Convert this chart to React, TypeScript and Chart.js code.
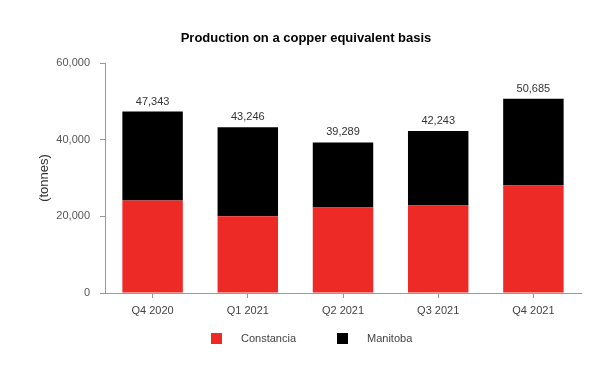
import React, { useEffect, useRef } from "react";
import { Chart, registerables } from "chart.js";

Chart.register(...registerables);

const categories = ["Q4 2020", "Q1 2021", "Q2 2021", "Q3 2021", "Q4 2021"];
const constancia = [24100, 20000, 22330, 22850, 28070];
const manitoba = [23243, 23246, 16959, 19393, 22615];
const yTicks = [0, 20000, 40000, 60000];
const titleText = "Production on a copper equivalent basis";
const yTitle = "(tonnes)";
const seriesNames = ["Constancia", "Manitoba"];
const colors = ["#EE2A27", "#000000"];

const FONT = "'Liberation Sans', Arial, Helvetica, sans-serif";
const fmt = (v: number) => v.toLocaleString("en-US");

export default function App() {
  const ref = useRef<HTMLCanvasElement | null>(null);
  useEffect(() => {
    document.body.style.margin = "0";
    const canvas = ref.current!;
    const overlay = {
      id: "overlay",
      afterDatasetsDraw(chart: any) {
        const ctx = chart.ctx;
        ctx.save();
        const meta = chart.getDatasetMeta(1);
        ctx.font = `11px ${FONT}`;
        ctx.fillStyle = "#333";
        ctx.textAlign = "center";
        ctx.textBaseline = "middle";
        meta.data.forEach((bar: any, i: number) => {
          const total = constancia[i] + manitoba[i];
          ctx.fillText(fmt(total), bar.x, bar.y - 10);
        });
        ctx.font = `bold 13px ${FONT}`;
        ctx.fillStyle = "#000";
        ctx.fillText(titleText, 306, 38);
        ctx.save();
        ctx.translate(44, 178);
        ctx.rotate(-Math.PI / 2);
        ctx.font = `13px ${FONT}`;
        ctx.fillStyle = "#333";
        ctx.fillText(yTitle, 0, 0);
        ctx.restore();
        const legendX = [211, 337];
        ctx.font = `11px ${FONT}`;
        ctx.textAlign = "left";
        seriesNames.forEach((name, i) => {
          ctx.fillStyle = colors[i];
          ctx.fillRect(legendX[i], 333, 11, 11);
          ctx.fillStyle = "#444";
          ctx.fillText(name, legendX[i] + 30, 339);
        });
        ctx.restore();
      },
    };
    const chart = new Chart(canvas, {
      type: "bar",
      data: {
        labels: categories,
        datasets: [
          {
            label: seriesNames[0],
            data: constancia,
            backgroundColor: colors[0],
            borderWidth: 0,
            categoryPercentage: 1,
            barPercentage: 0.635,
          },
          {
            label: seriesNames[1],
            data: manitoba,
            backgroundColor: colors[1],
            borderWidth: 0,
            categoryPercentage: 1,
            barPercentage: 0.635,
          },
        ],
      },
      options: {
        responsive: false,
        animation: false,
        layout: { padding: { left: 0, right: 32, top: 63, bottom: 0 } },
        plugins: {
          legend: { display: false },
          title: { display: false },
          tooltip: { enabled: false },
        },
        scales: {
          x: {
            stacked: true,
            afterFit: (s: any) => {
              s.height = 87;
            },
            grid: {
              offset: false,
              drawOnChartArea: false,
              drawTicks: true,
              tickLength: 5,
              color: "#999",
            },
            border: { color: "#999", width: 1 },
            ticks: {
              color: "#444",
              font: { family: FONT, size: 11 },
              padding: 6,
            },
          },
          y: {
            stacked: true,
            min: 0,
            max: 60000,
            afterFit: (s: any) => {
              s.width = 105;
            },
            afterBuildTicks: (s: any) => {
              s.ticks = yTicks.map((v) => ({ value: v }));
            },
            grid: {
              drawOnChartArea: false,
              drawTicks: true,
              tickLength: 5,
              color: "#999",
            },
            border: { color: "#999", width: 1 },
            ticks: {
              color: "#555",
              font: { family: FONT, size: 11 },
              padding: 10,
              callback: (v: any) => fmt(Number(v)),
            },
          },
        },
      },
      plugins: [overlay],
    } as any);
    return () => chart.destroy();
  }, []);
  return <canvas ref={ref} width={613} height={380} style={{ display: "block" }} />;
}
